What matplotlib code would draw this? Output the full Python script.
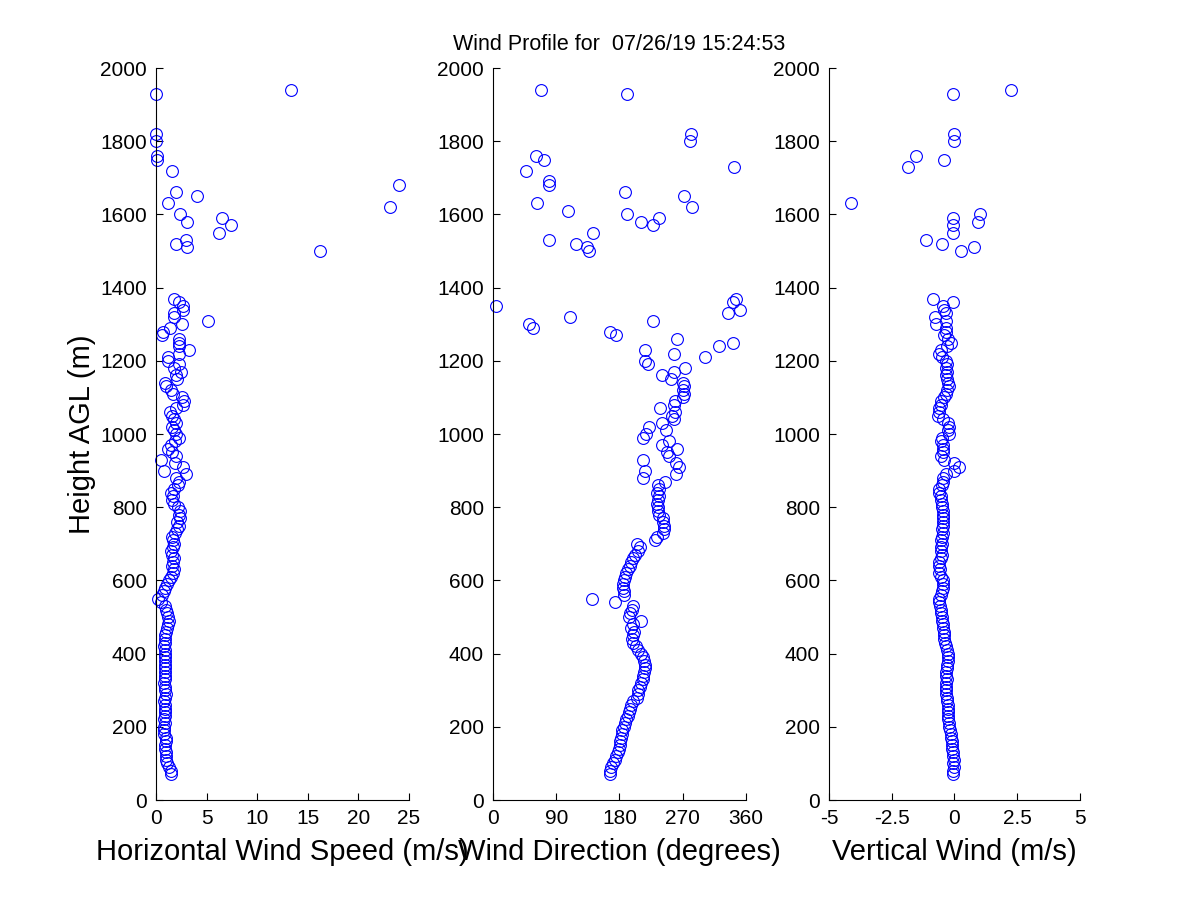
import matplotlib
matplotlib.use("Agg")
import matplotlib.pyplot as plt
import numpy as np

plt.rcParams['font.family'] = ['Liberation Sans', 'DejaVu Sans']
plt.rcParams['axes.unicode_minus'] = False

nan = np.nan

# gates with a steady signal (m AGL)
height_low = [70, 80, 90, 100, 110, 120, 130, 140, 150, 160,
              170, 180, 190, 200, 210, 220, 230, 240, 250, 260,
              270, 280, 290, 300, 310, 320, 330, 340, 350, 360,
              370, 380, 390, 400, 410, 420, 430, 440, 450, 460,
              470, 480, 490, 500, 510, 520, 530, 540, 550, 560,
              570, 580, 590, 600, 610, 620, 630, 640, 650, 660,
              670, 680, 690, 700, 710, 720, 730, 740, 750, 760,
              770, 780, 790, 800, 810, 820, 830, 840, 850, 860,
              870, 880, 890, 900, 910, 920, 930, 940, 950, 960,
              970, 980, 990, 1000, 1010, 1020, 1030, 1040, 1050, 1060,
              1070, 1080, 1090, 1100, 1110, 1120, 1130, 1140, 1150, 1160,
              1170, 1180, 1190, 1200, 1210, 1220, 1230, 1240, 1250, 1260,
              1270, 1280, 1290, 1300, 1310, 1320, 1330, 1340, 1350, 1360,
              1370]

speed_low = [1.5, 1.5, 1.3, 1.1, 1.0, 1.0, 1.0, 0.9, 0.9, 1.0,
             1.0, 0.8, 0.8, 0.8, 0.9, 0.8, 0.9, 0.9, 0.9, 0.9,
             0.8, 0.9, 1.0, 0.9, 0.9, 0.8, 0.9, 0.9, 0.9, 0.9,
             0.9, 0.9, 0.9, 0.9, 0.9, 0.8, 0.9, 0.9, 0.9, 1.0,
             1.1, 1.2, 1.3, 1.2, 1.1, 1.0, 0.9, 0.5, 0.2, 0.6,
             0.8, 0.9, 1.1, 1.3, 1.5, 1.7, 1.8, 1.6, 1.7, 1.8,
             1.6, 1.5, 1.7, 1.8, 1.7, 1.6, 1.9, 2.1, 2.3, 2.1,
             2.4, 2.3, 2.4, 2.2, 1.8, 1.6, 1.7, 1.5, 1.8, 2.2,
             2.3, 2.0, 3.0, 0.8, 2.7, 1.9, 0.5, 2.0, 1.6, 1.2,
             1.5, 1.9, 2.3, 2.0, 1.8, 1.6, 2.0, 1.8, 1.6, 1.4,
             2.0, 2.7, 2.8, 2.6, 1.7, 1.5, 1.0, 0.9, 2.1, 2.0,
             2.5, 1.8, 2.3, 1.2, 1.2, 2.3, 3.3, 2.3, 2.3, 2.3,
             0.6, 0.7, 1.4, 2.6, 5.1, 1.8, 1.8, 2.7, 2.7, 2.3,
             1.8]

direction_low = [167, 166, 168, 171, 174, 175, 178, 180, 181, 181,
                 182, 183, 183, 186, 188, 190, 192, 193, 195, 197,
                 200, 205, 207, 207, 209, 211, 213, 214, 215, 216,
                 216, 215, 214, 211, 206, 203, 200, 198, 200, 201,
                 196, 199, 210, 193, 195, 198, 200, 174, 141, 186,
                 186, 185, 185, 186, 188, 189, 192, 195, 197, 200,
                 202, 207, 209, 205, 230, 233, 242, 243, 243, 242,
                 242, 236, 235, 235, 234, 235, 236, 234, 236, 235,
                 245, 213, 261, 216, 265, 261, 214, 250, 247, 262,
                 240, 250, 213, 218, 246, 222, 240, 257, 255, 259,
                 238, 257, 259, 271, 272, 271, 272, 271, 253, 241,
                 258, 274, 220, 217, 302, 258, 217, 321, 342, 262,
                 175, 167, 57, 51, 228, 109, 335, 351, 4, 342,
                 346]

vertical_low = [-0.05, -0.05, -0.03, -0.05, -0.03, -0.05, -0.07, -0.08, -0.1, -0.1,
                -0.12, -0.15, -0.18, -0.2, -0.22, -0.25, -0.27, -0.25, -0.25, -0.25,
                -0.28, -0.3, -0.33, -0.33, -0.33, -0.33, -0.3, -0.33, -0.35, -0.3,
                -0.28, -0.27, -0.27, -0.27, -0.3, -0.33, -0.37, -0.4, -0.4, -0.43,
                -0.45, -0.47, -0.5, -0.5, -0.53, -0.53, -0.57, -0.6, -0.6, -0.55,
                -0.5, -0.47, -0.45, -0.47, -0.55, -0.6, -0.57, -0.6, -0.6, -0.55,
                -0.5, -0.53, -0.55, -0.5, -0.53, -0.5, -0.47, -0.5, -0.47, -0.45,
                -0.47, -0.45, -0.47, -0.5, -0.5, -0.53, -0.55, -0.6, -0.63, -0.5,
                -0.45, -0.47, -0.33, 0.0, 0.17, 0.0, -0.4, -0.53, -0.47, -0.45,
                -0.47, -0.53, -0.5, -0.2, -0.27, -0.2, -0.27, -0.45, -0.66, -0.6,
                -0.6, -0.53, -0.53, -0.4, -0.33, -0.3, -0.22, -0.25, -0.3, -0.35,
                -0.3, -0.33, -0.3, -0.35, -0.5, -0.6, -0.53, -0.3, -0.13, -0.25,
                -0.4, -0.35, -0.35, -0.73, -0.33, -0.76, -0.33, -0.4, -0.47, -0.07,
                -0.85]

# scattered returns higher up
height_high = [1500, 1510, 1520, 1530, 1550, 1570, 1580, 1590, 1600, 1610,
               1620, 1630, 1650, 1660, 1680, 1690, 1720, 1730, 1750, 1760,
               1800, 1820, 1930, 1940]
speed_high = [16.2, 3.1, 2.0, 3.0, 6.2, 7.4, 3.1, 6.5, 2.4, nan,
              23.1, 1.2, 4.1, 2.0, 24.0, nan, 1.6, nan, 0.1, 0.1,
              0.0, 0.0, 0.0, 13.3]
direction_high = [136, 134, 118, 80, 142, 228, 211, 236, 191, 107,
                  283, 62, 272, 188, 80, 80, 47, 343, 73, 61,
                  281, 282, 191, 68]
vertical_high = [0.25, 0.77, -0.5, -1.15, -0.07, -0.07, 0.93, -0.07, 1.0, nan,
                 nan, -4.14, nan, nan, nan, nan, nan, -1.87, -0.4, -1.55,
                 0.0, 0.0, -0.05, 2.24]

height = np.array(height_low + height_high, dtype=float)
speed = np.array(speed_low + speed_high)
direction = np.array(direction_low + direction_high)
vertical = np.array(vertical_low + vertical_high)

fig = plt.figure(figsize=(12, 9), dpi=100)

panels = [
    ([0.130, 0.1111, 0.2108, 0.8133], speed, (0, 25), [0, 5, 10, 15, 20, 25],
     ['0', '5', '10', '15', '20', '25'], 'Horizontal Wind Speed (m/s)'),
    ([0.4108, 0.1111, 0.2108, 0.8133], direction, (0, 360), [0, 90, 180, 270, 360],
     ['0', '90', '180', '270', '360'], 'Wind Direction (degrees)'),
    ([0.6908, 0.1111, 0.2092, 0.8133], vertical, (-5, 5), [-5, -2.5, 0, 2.5, 5],
     ['-5', '-2.5', '0', '2.5', '5'], 'Vertical Wind (m/s)'),
]

axes = []
for rect, vals, xlim, xt, xtl, xlab in panels:
    ax = fig.add_axes(rect)
    ax.plot(vals, height, 'o', ms=8.5, mfc='none', mec='#0000ff', mew=0.8,
            clip_on=False)
    ax.set_xlim(*xlim)
    ax.set_ylim(0, 2000)
    ax.set_xticks(xt)
    ax.set_xticklabels(xtl)
    ax.set_yticks(np.arange(0, 2001, 200))
    ax.spines['top'].set_visible(False)
    ax.spines['right'].set_visible(False)
    for s in ('left', 'bottom'):
        ax.spines[s].set_linewidth(0.8)
    ax.tick_params(direction='in', length=5, width=0.8, labelsize=15, pad=6.5)
    ax.set_xlabel(xlab, fontsize=21, labelpad=7)
    axes.append(ax)

axes[0].set_ylabel('Height AGL (m)', fontsize=21, labelpad=3)
axes[1].set_title('Wind Profile for  07/26/19 15:24:53', fontsize=15.5, pad=13)

fig.savefig('out.png', dpi=100, facecolor='white')
